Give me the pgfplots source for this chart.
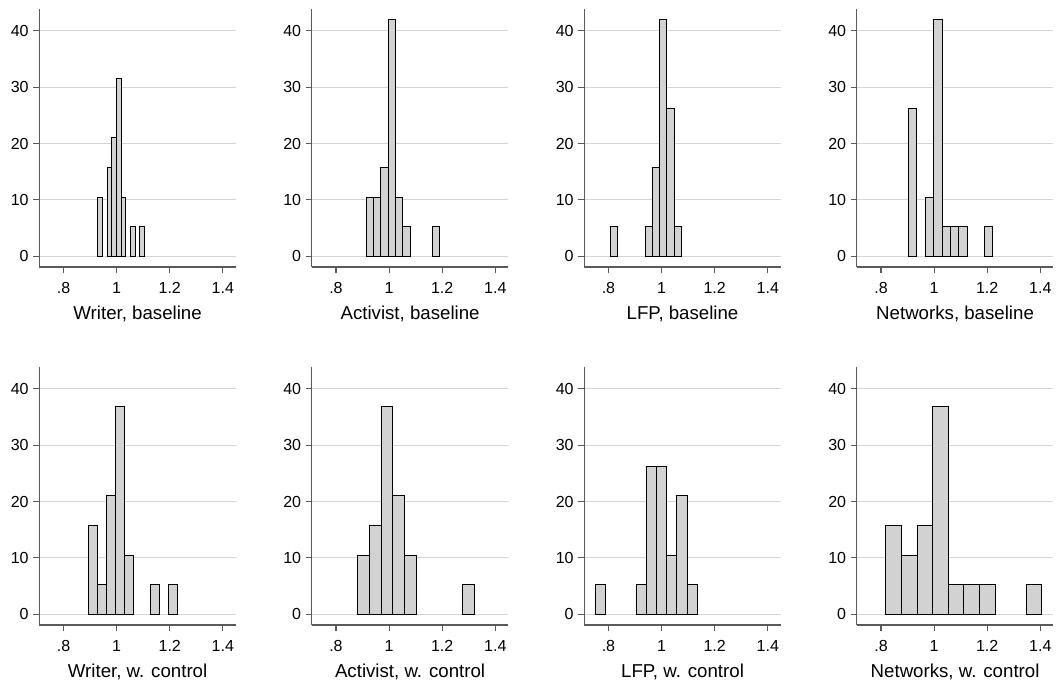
\documentclass[border=0pt]{standalone}
\usepackage{pgfplots}
\pgfplotsset{compat=1.18}
\usepackage{fontspec}
\setmainfont{Liberation Sans}
\definecolor{barfill}{RGB}{210,210,210}
\definecolor{barline}{RGB}{25,25,25}
\definecolor{gridc}{RGB}{212,212,212}
\definecolor{axisc}{RGB}{90,90,90}
\pgfplotsset{
  hist/.style={
    scale only axis, width=147.4pt, height=193.5pt,
    anchor=south west,
    xmin=0.709, xmax=1.449, ymin=-1.9, ymax=43.9,
    axis x line*=bottom, axis y line*=left,
    axis line style={axisc, line width=0.9pt},
    tick align=outside, major tick length=4.5pt,
    tick style={axisc, line width=0.8pt},
    xtick={0.8,1,1.2,1.4}, xticklabels={.8,1,1.2,1.4},
    ytick={0,10,20,30,40},
    ymajorgrids, major grid style={gridc, line width=0.8pt},
    /pgf/number format/assume math mode=true,
    tick label style={font=\fontsize{12}{14}\selectfont, text=black},
    xticklabel style={yshift=-3.5pt},
    xlabel style={font=\fontsize{14}{16}\selectfont, text=black, yshift=-2pt},
    ybar, bar shift=0pt,
    cycle list={{fill=barfill, draw=barline, line width=0.8pt}},
  }
}
\begin{document}
\begin{tikzpicture}
\useasboundingbox (0,0) rectangle (795pt,513pt);
% top row
\begin{axis}[hist, at={(29.5pt,312.75pt)}, xlabel={Writer, baseline}, bar width=0.0176]
\addplot coordinates {(0.9368,10.526) (0.9720,15.789) (0.9896,21.053) (1.0072,31.579) (1.0248,10.526) (1.0600,5.263) (1.0952,5.263)};
\end{axis}
\begin{axis}[hist, at={(233.85pt,312.75pt)}, xlabel={Activist, baseline}, bar width=0.0276]
\addplot coordinates {(0.9272,10.526) (0.9548,10.526) (0.9824,15.789) (1.0100,42.105) (1.0376,10.526) (1.0652,5.263) (1.1756,5.263)};
\end{axis}
\begin{axis}[hist, at={(438.2pt,312.75pt)}, xlabel={LFP, baseline}, bar width=0.0267]
\addplot coordinates {(0.81905,5.263) (0.95255,5.263) (0.97925,15.789) (1.00595,42.105) (1.03265,26.316) (1.05935,5.263)};
\end{axis}
\begin{axis}[hist, at={(642.6pt,312.75pt)}, xlabel={Networks, baseline}, bar width=0.0318]
\addplot coordinates {(0.9178,26.316) (0.9814,10.526) (1.0132,42.105) (1.0450,5.263) (1.0768,5.263) (1.1086,5.263) (1.2040,5.263)};
\end{axis}
% bottom row
\begin{axis}[hist, at={(29.5pt,44.25pt)}, xlabel={Writer, w. control}, bar width=0.0336]
\addplot coordinates {(0.9101,15.789) (0.9437,5.263) (0.9773,21.053) (1.0109,36.842) (1.0445,10.526) (1.1453,5.263) (1.2125,5.263)};
\end{axis}
\begin{axis}[hist, at={(233.85pt,44.25pt)}, xlabel={Activist, w. control}, bar width=0.0437]
\addplot coordinates {(0.90385,10.526) (0.94755,15.789) (0.99125,36.842) (1.03495,21.053) (1.07865,10.526) (1.29715,5.263)};
\end{axis}
\begin{axis}[hist, at={(438.2pt,44.25pt)}, xlabel={LFP, w. control}, bar width=0.0385]
\addplot coordinates {(0.76825,5.263) (0.92225,5.263) (0.96075,26.316) (0.99925,26.316) (1.03775,10.526) (1.07625,21.053) (1.11475,5.263)};
\end{axis}
\begin{axis}[hist, at={(642.6pt,44.25pt)}, xlabel={Networks, w. control}, bar width=0.0587]
\addplot coordinates {(0.84695,15.789) (0.90565,10.526) (0.96435,15.789) (1.02305,36.842) (1.08175,5.263) (1.14045,5.263) (1.19915,5.263) (1.37525,5.263)};
\end{axis}
\end{tikzpicture}
\end{document}
